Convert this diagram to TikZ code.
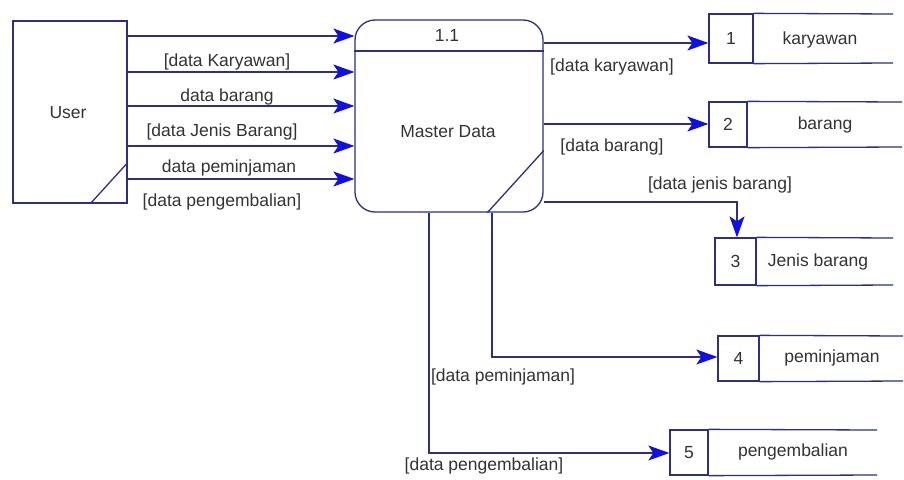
\documentclass[tikz,border=0pt]{standalone}
\usepackage{fontspec}
\setmainfont{Liberation Sans}
\usetikzlibrary{arrows.meta,calc}
\definecolor{navy}{HTML}{2E2E85}
\definecolor{tipblue}{HTML}{1010E0}
\definecolor{txt}{HTML}{333333}
\begin{document}
\begin{tikzpicture}[x=1pt,y=-1pt,
  every node/.style={font=\fontsize{17.5}{20}\selectfont, text=txt, inner sep=0pt},
  edge/.style={draw=navy, line width=1.3pt},
  flow/.style={edge, arrows={-Stealth[length=21pt,width=15pt,inset=5pt,line width=1pt,color=tipblue,fill=tipblue]}},
  box/.style={draw=navy, line width=1.3pt},
  lbl/.style={fill=white, inner sep=1pt}]
\useasboundingbox (0,0) rectangle (904,479);
\fill[white] (0,0) rectangle (904,479);

% external entity
\node[box, minimum width=114pt, minimum height=182pt] (user) at (70,112) {};
\node (usert) at (68,113) {User};
\draw[edge] ($(user.south west)+(78,0)$) -- ($(user.south east)+(0,-41)$);

% process
\node[box, rounded corners=20pt, minimum width=188pt, minimum height=192pt] (proc) at (449,116) {};
\coordinate (dv) at (0,51);
\draw[edge] (proc.west |- dv) -- (proc.east |- dv);
\node (pid) at (447,35) {1.1};
\node (pname) at (448,132) {Master Data};
\draw[edge] ($(proc.south west)+(133,0)$) -- ($(proc.south east)+(0,-62)$);

% data stores
\node[box, minimum width=44pt, minimum height=49pt] (s1) at (731,38.5) {1};
\draw[edge] (s1.north east) -- (893,14) (s1.south east) -- (893,63);
\node (s1t) at (820,40) {karyawan};

\node[box, minimum width=38pt, minimum height=45pt] (s2) at (728,124.5) {2};
\draw[edge] (s2.north east) -- (902,102) (s2.south east) -- (902,147);
\node (s2t) at (825,125) {barang};

\node[box, minimum width=41pt, minimum height=47pt] (s3) at (735.5,261.5) {3};
\draw[edge] (s3.north east) -- (893,238) (s3.south east) -- (893,285);
\node (s3t) at (818,262) {Jenis barang};

\node[box, minimum width=41pt, minimum height=45pt] (s4) at (738.5,358.5) {4};
\draw[edge] (s4.north east) -- (903,336) (s4.south east) -- (903,381);
\node (s4t) at (832,358) {peminjaman};

\node[box, minimum width=38pt, minimum height=45pt] (s5) at (689,452.5) {5};
\draw[edge] (s5.north east) -- (877,430) (s5.south east) -- (877,475);
\node (s5t) at (793,452) {pengembalian};

% flows user -> process
\coordinate (r1) at (0,36);
\coordinate (r2) at (0,72);
\coordinate (r3) at (0,106);
\coordinate (r4) at (0,146);
\coordinate (r5) at (0,179);
\foreach \r in {r1,r2,r3,r4,r5}
  \draw[flow] (user.east |- \r) -- (proc.west |- \r);
\node (l1) at (227,62) {[data Karyawan]};
\node (l2) at (227,97) {data barang};
\node (l3) at (222,132) {[data Jenis Barang]};
\node (l4) at (229,168) {data peminjaman};
\node (l5) at (222,202) {[data pengembalian]};

% flows process -> stores
\coordinate (q1) at (0,43);
\draw[flow] (proc.east |- q1) -- (s1.west |- q1);
\node (m1) at (612,67) {[data karyawan]};

\coordinate (q2) at (0,124);
\draw[flow] (proc.east |- q2) -- (s2.west |- q2);
\node (m2) at (612,147) {[data barang]};

\coordinate (q3) at (737,202);
\draw[flow] (proc.east |- q3) -- (q3) -- (s3.north -| q3);
\node (m3) at (720,185) {[data jenis barang]};

\coordinate (q4) at (492,357);
\draw[flow] (proc.south -| q4) -- (q4) -- (s4.west |- q4);

\coordinate (q5) at (429,453);
\draw[flow] (proc.south -| q5) -- (q5) -- (s5.west |- q5);
\node[lbl] (m4) at (503,377) {[data peminjaman]};
\node (m5) at (484,466) {[data pengembalian]};
\end{tikzpicture}
\end{document}
